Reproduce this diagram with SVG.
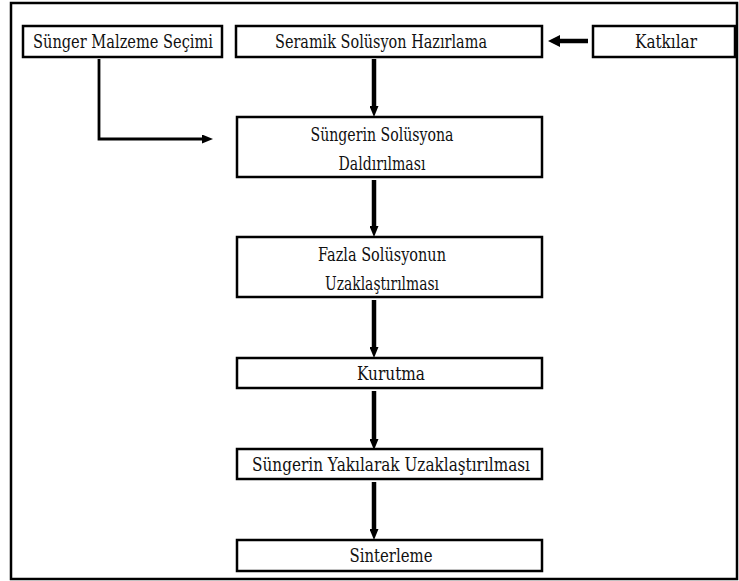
<svg xmlns="http://www.w3.org/2000/svg" width="739" height="581" viewBox="0 0 739 581">
  <style>
    .box { fill: #ffffff; stroke: #000000; stroke-width: 2.5; }
    .lbl { font-family: "DejaVu Serif", "Liberation Serif", serif; font-size: 18px; fill: #111111; text-anchor: middle; }
    .flow { stroke: #000000; stroke-width: 4.5; fill: none; }
    .thin { stroke: #000000; stroke-width: 2.8; fill: none; }
  </style>
  <defs>
    <marker id="head" markerUnits="userSpaceOnUse" markerWidth="11" markerHeight="9" refX="0" refY="4.5" orient="auto">
      <path d="M0,0 L11,4.5 L0,9 z" fill="#000000"/>
    </marker>
    <marker id="headWide" markerUnits="userSpaceOnUse" markerWidth="12" markerHeight="12" refX="0" refY="6" orient="auto">
      <path d="M0,0 L12,6 L0,12 z" fill="#000000"/>
    </marker>
  </defs>

  <rect width="739" height="581" fill="#ffffff"/>
  <!-- outer frame -->
  <rect x="11" y="3" width="726" height="576" fill="none" stroke="#000000" stroke-width="2.5"/>

  <g id="connectors">
    <!-- additives into solution preparation -->
    <line class="flow" x1="588" y1="41" x2="560" y2="41" stroke-width="6" marker-end="url(#headWide)"/>
    <!-- sponge selection into immersion -->
    <polyline class="thin" points="99,59 99,139 202,139" marker-end="url(#head)"/>
    <!-- main vertical chain -->
    <line class="flow" x1="374" y1="59" x2="374" y2="106" marker-end="url(#head)"/>
    <line class="flow" x1="374" y1="180" x2="374" y2="226" marker-end="url(#head)"/>
    <line class="flow" x1="374" y1="300" x2="374" y2="347" marker-end="url(#head)"/>
    <line class="flow" x1="374" y1="391" x2="374" y2="439" marker-end="url(#head)"/>
    <line class="flow" x1="374" y1="482" x2="374" y2="529" marker-end="url(#head)"/>
  </g>

  <g id="sunger-secimi">
    <rect class="box" x="23" y="26" width="199" height="31"/>
    <text class="lbl" x="123" y="48" textLength="180" lengthAdjust="spacingAndGlyphs">Sünger Malzeme Seçimi</text>
  </g>

  <g id="seramik-solusyon">
    <rect class="box" x="236" y="26" width="306" height="31"/>
    <text class="lbl" x="381" y="48" textLength="212" lengthAdjust="spacingAndGlyphs">Seramik Solüsyon Hazırlama</text>
  </g>

  <g id="katkilar">
    <rect class="box" x="593" y="26" width="142" height="31"/>
    <text class="lbl" x="666" y="48" textLength="62" lengthAdjust="spacingAndGlyphs">Katkılar</text>
  </g>

  <g id="daldirma">
    <rect class="box" x="237" y="117" width="305" height="60"/>
    <text class="lbl" x="382" y="141" textLength="143" lengthAdjust="spacingAndGlyphs">Süngerin Solüsyona</text>
    <text class="lbl" x="382" y="170" textLength="87" lengthAdjust="spacingAndGlyphs">Daldırılması</text>
  </g>

  <g id="fazla-solusyon">
    <rect class="box" x="237" y="237" width="305" height="60"/>
    <text class="lbl" x="382" y="261" textLength="128" lengthAdjust="spacingAndGlyphs">Fazla Solüsyonun</text>
    <text class="lbl" x="382" y="290" textLength="114" lengthAdjust="spacingAndGlyphs">Uzaklaştırılması</text>
  </g>

  <g id="kurutma">
    <rect class="box" x="237" y="358" width="305" height="30"/>
    <text class="lbl" x="391" y="380" textLength="68" lengthAdjust="spacingAndGlyphs">Kurutma</text>
  </g>

  <g id="yakma">
    <rect class="box" x="237" y="449" width="305" height="30"/>
    <text class="lbl" x="391" y="471" textLength="278" lengthAdjust="spacingAndGlyphs">Süngerin Yakılarak Uzaklaştırılması</text>
  </g>

  <g id="sinterleme">
    <rect class="box" x="237" y="540" width="305" height="31"/>
    <text class="lbl" x="391" y="562" textLength="83" lengthAdjust="spacingAndGlyphs">Sinterleme</text>
  </g>
</svg>
